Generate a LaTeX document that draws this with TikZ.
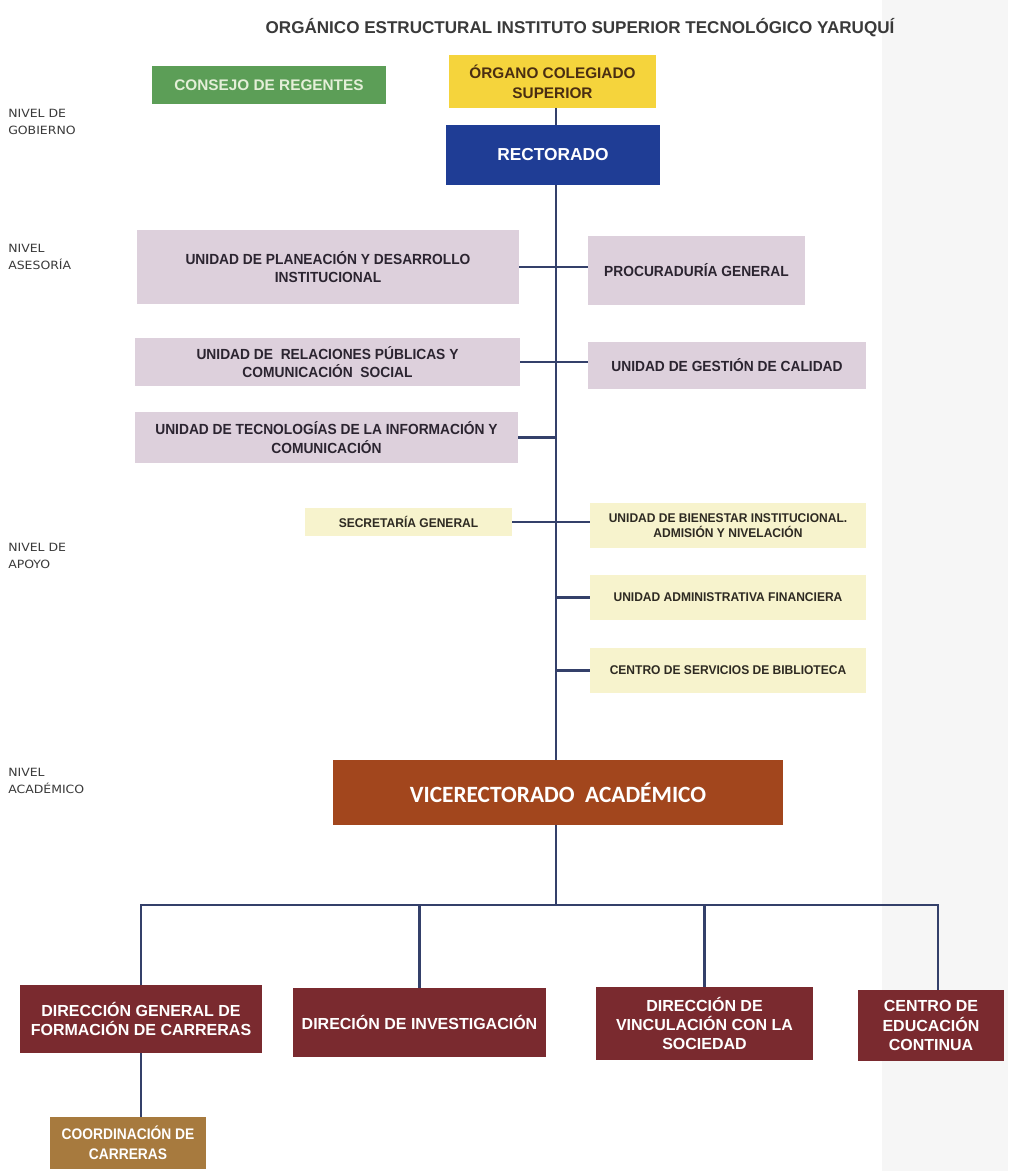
\documentclass[tikz,border=0pt]{standalone}
\usepackage{fontspec}
\setmainfont{Liberation Sans}
\newfontfamily\boxfont[FakeStretch=0.94]{Liberation Sans}
\newfontfamily\palefont[FakeStretch=0.95]{Liberation Sans}
\newfontfamily\coordfont[FakeStretch=0.9]{Liberation Sans}
\newfontfamily\levelfont[FakeStretch=1.1]{DejaVu Sans}
\newfontfamily\vicefont{Carlito}
\definecolor{linec}{HTML}{34406A}
\definecolor{greenc}{HTML}{5C9E57}
\definecolor{greent}{HTML}{E4EFD8}
\definecolor{yelc}{HTML}{F5D43C}
\definecolor{yelt}{HTML}{4A2E12}
\definecolor{bluec}{HTML}{1F3D95}
\definecolor{lavc}{HTML}{DDD0DC}
\definecolor{lavt}{HTML}{2B2430}
\definecolor{palec}{HTML}{F7F3CD}
\definecolor{palet}{HTML}{2E2A22}
\definecolor{vicec}{HTML}{A2461D}
\definecolor{maroonc}{HTML}{7A2A2F}
\definecolor{coordc}{HTML}{A77A3E}
\definecolor{titlec}{HTML}{3A3A3A}
\definecolor{stripc}{HTML}{F6F6F6}
\begin{document}
\begin{tikzpicture}[x=0.75pt,y=-0.75pt,
  bxs/.style 2 args={minimum width=#1*0.75pt, minimum height=#2*0.75pt, inner sep=0pt, align=center},
  conn/.style={draw=linec, line width=1.8pt},
  lav/.style={fill=lavc, text=lavt, font=\boxfont\bfseries\fontsize{11}{14}\selectfont},
  pale/.style={fill=palec, text=palet, font=\palefont\bfseries\fontsize{9.5}{11.5}\selectfont},
  acad/.style={fill=maroonc, text=white, font=\bfseries\fontsize{12}{14.5}\selectfont},
  lvl/.style={anchor=west, align=left, inner sep=0pt, text=titlec, font=\levelfont\fontsize{8.5}{12.5}\selectfont}
]
\useasboundingbox (0,0) rectangle (1008,1171);
\fill[white] (0,0) rectangle (1008,1171);
\fill[stripc] (882,0) rectangle (1008,1171);

% title
\node[inner sep=0pt, text=titlec, font=\bfseries\fontsize{12.8}{14}\selectfont] (title) at (580,28)
  {ORGÁNICO ESTRUCTURAL INSTITUTO SUPERIOR TECNOLÓGICO YARUQUÍ};

% level labels
\node[lvl] (lgob) at (8,122) {NIVEL DE\\GOBIERNO};
\node[lvl] (lase) at (8,257) {NIVEL\\ASESORÍA};
\node[lvl] (lapo) at (8,556) {NIVEL DE\\APOYO};
\node[lvl] (laca) at (8,781) {NIVEL\\ACADÉMICO};

% governance
\node[bxs={234}{38}, fill=greenc, text=greent, font=\bfseries\fontsize{11.5}{14}\selectfont] (consejo) at (269,85) {CONSEJO DE REGENTES};
\node[bxs={207}{53}, fill=yelc, text=yelt, font=\bfseries\fontsize{11.5}{15}\selectfont] (organo) at (552.5,81.5) {ÓRGANO COLEGIADO\\SUPERIOR};
\node[bxs={214}{60}, fill=bluec, text=white, font=\bfseries\fontsize{13}{15}\selectfont] (rector) at (553,155) {RECTORADO};

% advisory
\node[bxs={382}{74}, lav] (planeacion) at (328,267) {UNIDAD DE PLANEACIÓN Y DESARROLLO\\INSTITUCIONAL};
\node[bxs={217}{69}, lav] (procuraduria) at (696.5,270.5) {PROCURADURÍA GENERAL};
\node[bxs={385}{48}, lav] (relaciones) at (327.5,362) {UNIDAD DE \ RELACIONES PÚBLICAS Y\\COMUNICACIÓN \ SOCIAL};
\node[bxs={278}{47}, lav] (calidad) at (727,365.5) {UNIDAD DE GESTIÓN DE CALIDAD};
\node[bxs={383}{51}, lav] (tecnologias) at (326.5,437.5) {UNIDAD DE TECNOLOGÍAS DE LA INFORMACIÓN Y\\COMUNICACIÓN};

% support
\node[bxs={207}{28}, pale] (secretaria) at (408.5,522) {SECRETARÍA GENERAL};
\node[bxs={276}{45}, pale] (bienestar) at (728,525.5) {UNIDAD DE BIENESTAR INSTITUCIONAL.\\ADMISIÓN Y NIVELACIÓN};
\node[bxs={276}{45}, pale] (administrativa) at (728,597.5) {UNIDAD ADMINISTRATIVA FINANCIERA};
\node[bxs={276}{45}, pale] (biblioteca) at (728,670.5) {CENTRO DE SERVICIOS DE BIBLIOTECA};

% academic
\node[bxs={450}{65}, fill=vicec, text=white, font=\vicefont\bfseries\fontsize{17.5}{20}\selectfont] (vice) at (558,792.5) {VICERECTORADO \ ACADÉMICO};
\node[bxs={242}{68}, acad] (dgf) at (141,1019) {DIRECCIÓN GENERAL DE\\FORMACIÓN DE CARRERAS};
\node[bxs={253}{69}, acad] (inv) at (419.5,1022.5) {DIRECIÓN DE INVESTIGACIÓN};
\node[bxs={217}{73}, acad] (vinc) at (704.5,1023.5) {DIRECCIÓN DE\\VINCULACIÓN CON LA\\SOCIEDAD};
\node[bxs={146}{71}, acad] (cec) at (931,1025.5) {CENTRO DE\\EDUCACIÓN\\CONTINUA};
\node[bxs={156}{52}, fill=coordc, text=white, font=\coordfont\bfseries\fontsize{11.5}{15}\selectfont] (coord) at (128,1143) {COORDINACIÓN DE\\CARRERAS};

% connectors
\coordinate (sp) at (556,0);
\coordinate (bus) at (0,905);
\coordinate (cecx) at (938,0);
\draw[conn] (organo.south -| sp) -- (rector.north -| sp);
\draw[conn] (rector.south -| sp) -- (vice.north -| sp);
\draw[conn] (planeacion.east) -- (planeacion.east -| procuraduria.west);
\draw[conn] (relaciones.east) -- (relaciones.east -| calidad.west);
\draw[conn] (tecnologias.east) -- (tecnologias.east -| sp);
\draw[conn] (secretaria.east) -- (secretaria.east -| bienestar.west);
\draw[conn] (administrativa.west -| sp) -- (administrativa.west);
\draw[conn] (biblioteca.west -| sp) -- (biblioteca.west);
\draw[conn] (vice.south -| sp) -- (bus -| sp);
\draw[conn] (dgf.north) -- (dgf.north |- bus) -- (bus -| cecx) -- (cec.north -| cecx);
\draw[conn] (inv.north) -- (inv.north |- bus);
\draw[conn] (vinc.north) -- (vinc.north |- bus);
\draw[conn] (dgf.south) -- (dgf.south |- coord.north);
\end{tikzpicture}
\end{document}
